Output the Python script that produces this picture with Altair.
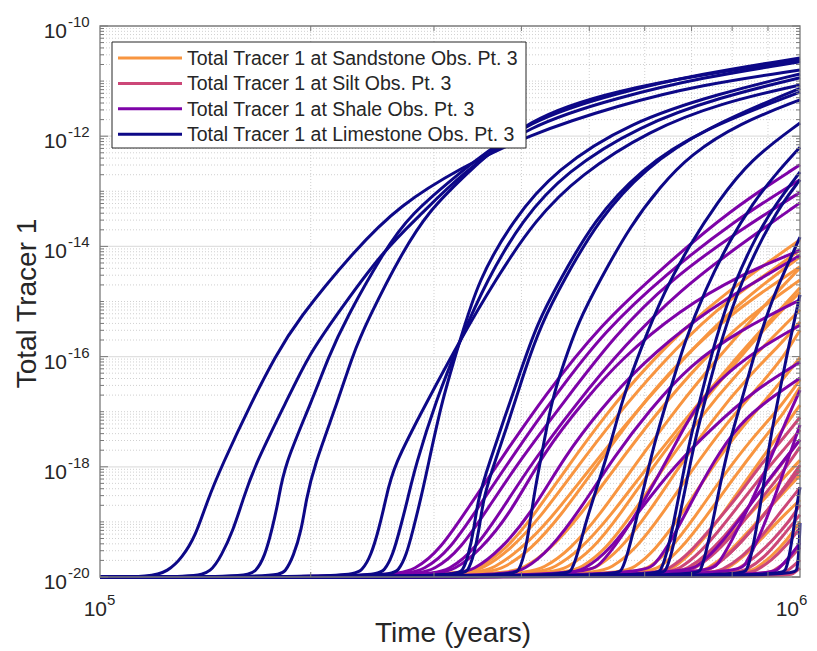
import altair as alt
import pandas as pd

# Each curve is a list of (time in units of 1e5 years, log10 of Total Tracer 1),
# read off the reference picture. Values below 1e-20 sit on the axis floor.
TIME_UNIT = 1e5

LIMESTONE = [
    [(1.18,-20),(1.25,-19.9),(1.31,-19.65),(1.37,-19.25),(1.42,-18.65),(1.49,-18.0),(1.65,-16.8),(1.78,-16.0),(1.91,-15.35),(2.31,-14.07),(2.68,-13.25),(3.27,-12.58),(4.08,-11.98),(5.53,-11.43),(7.2,-11.07),(10,-10.8)],
    [(1.37,-20),(1.44,-19.91),(1.49,-19.62),(1.55,-19.15),(1.60,-18.6),(1.66,-18.0),(1.85,-16.79),(1.98,-16.01),(2.15,-15.34),(2.54,-14.07),(2.87,-13.43),(3.27,-12.7),(4.08,-11.8),(5.53,-11.29),(7.2,-10.94),(10,-10.65)],
    [(1.61,-20),(1.67,-19.91),(1.72,-19.62),(1.76,-19.15),(1.80,-18.6),(1.83,-18.0),(2.01,-16.79),(2.12,-16.01),(2.24,-15.34),(2.55,-14.07),(2.77,-13.43),(3.27,-12.65),(4.08,-11.71),(5.53,-11.2),(7.2,-10.87),(10,-10.58)],
    [(1.79,-20),(1.84,-19.91),(1.89,-19.62),(1.94,-19.15),(1.97,-18.6),(2.02,-18.0),(2.19,-16.79),(2.29,-16.01),(2.41,-15.34),(2.71,-14.07),(2.96,-13.34),(3.27,-12.79),(4.08,-11.65),(5.53,-11.16),(7.2,-10.89),(10,-10.62)],
    [(2.28,-20),(2.37,-19.89),(2.44,-19.6),(2.50,-19.15),(2.56,-18.6),(2.62,-18.0),(2.94,-16.79),(3.27,-15.7),(3.67,-14.61),(4.18,-13.52),(4.85,-12.7),(6.1,-11.89),(7.69,-11.4),(10,-11.07)],
    [(2.47,-20),(2.55,-19.89),(2.62,-19.6),(2.68,-19.15),(2.75,-18.6),(2.82,-18.0),(3.02,-16.79),(3.27,-15.7),(3.57,-14.61),(4.01,-13.52),(4.62,-12.65),(5.91,-11.8),(7.69,-11.29),(10,-10.94)],
    [(2.59,-20),(2.67,-19.89),(2.74,-19.6),(2.80,-19.15),(2.87,-18.6),(2.94,-18.0),(3.08,-16.79),(3.27,-15.7),(3.47,-14.61),(3.89,-13.52),(4.47,-12.61),(5.72,-11.74),(7.69,-11.22),(10,-10.87)],
    [(3.22,-20),(3.30,-19.89),(3.36,-19.6),(3.42,-19.15),(3.47,-18.55),(3.61,-17.88),(3.76,-17.21),(3.98,-16.3),(4.21,-15.4),(4.54,-14.61),(5.08,-13.52),(5.91,-12.61),(7.2,-11.89),(10,-11.2)],
    [(3.27,-20),(3.36,-19.89),(3.42,-19.6),(3.48,-19.15),(3.53,-18.55),(3.67,-17.88),(3.83,-17.21),(4.03,-16.3),(4.27,-15.4),(4.60,-14.61),(5.15,-13.52),(6.0,-12.58),(7.32,-11.85),(10,-11.13)],
    [(3.88,-20),(3.97,-19.89),(4.05,-19.55),(4.12,-18.97),(4.18,-18.42),(4.30,-17.61),(4.42,-16.79),(4.59,-16.15),(4.82,-15.37),(5.18,-14.61),(5.72,-13.63),(6.31,-12.92),(6.96,-12.34),(8.21,-11.76),(10,-11.34)],
    [(4.62,-20),(4.72,-19.89),(4.82,-19.55),(4.93,-19.06),(5.06,-18.6),(5.35,-17.64),(5.57,-16.79),(5.91,-15.88),(6.41,-14.79),(6.96,-13.97),(7.61,-13.21),(8.48,-12.43),(10,-11.76)],
    [(5.44,-20),(5.57,-19.89),(5.68,-19.55),(5.81,-19.06),(5.95,-18.51),(6.21,-17.51),(6.46,-16.79),(6.85,-15.7),(7.32,-14.79),(7.94,-13.88),(8.57,-13.21),(9.21,-12.7),(10,-12.2)],
    [(6.21,-20),(6.33,-19.89),(6.46,-19.55),(6.59,-19.06),(6.74,-18.42),(6.96,-17.51),(7.2,-16.79),(7.56,-15.7),(8.08,-14.61),(8.68,-13.79),(9.21,-13.25),(10,-12.65)],
    [(6.31,-20),(6.44,-19.89),(6.56,-19.55),(6.69,-19.06),(6.85,-18.42),(7.08,-17.51),(7.32,-16.79),(7.71,-15.7),(8.26,-14.61),(8.88,-13.79),(9.39,-13.25),(10,-12.79)],
    [(7.08,-20),(7.22,-19.89),(7.34,-19.55),(7.49,-19.06),(7.66,-18.42),(7.94,-17.51),(8.26,-16.79),(8.62,-15.92),(9.06,-15.06),(9.52,-14.43),(10,-13.83)],
    [(8.24,-20),(8.40,-19.89),(8.54,-19.55),(8.68,-19.06),(8.85,-18.42),(9.06,-17.51),(9.30,-16.79),(9.64,-15.79),(10,-14.88)],
    [(9.39,-20),(9.55,-19.89),(9.68,-19.55),(9.81,-19.06),(9.90,-18.69),(10,-18.37)],
    [(9.84,-20),(9.90,-19.89),(9.97,-19.51),(10,-19.02)],
]

SHALE = [
    [(2.60,-20),(2.82,-19.87),(3.06,-19.51),(3.38,-18.69),(3.73,-17.88),(4.32,-16.7),(5.18,-15.43),(6.31,-14.43),(7.94,-13.34),(10,-12.52)],
    [(2.68,-20),(2.91,-19.87),(3.16,-19.51),(3.49,-18.69),(3.85,-17.88),(4.47,-16.7),(5.27,-15.52),(6.41,-14.52),(8.08,-13.52),(10,-12.79)],
    [(2.77,-20),(3.01,-19.87),(3.27,-19.51),(3.61,-18.69),(3.98,-17.88),(4.62,-16.79),(5.44,-15.61),(6.52,-14.61),(8.21,-13.7),(10,-13.02)],
    [(2.91,-20),(3.16,-19.87),(3.43,-19.51),(3.79,-18.69),(4.12,-17.97),(4.77,-16.88),(5.62,-15.79),(6.74,-14.79),(8.21,-13.97),(10,-13.21)],
    [(2.96,-20),(3.22,-19.87),(3.49,-19.51),(3.85,-18.87),(4.32,-17.7),(4.93,-16.79),(5.53,-16.06),(6.74,-15.15),(8.21,-14.52),(10,-14.07)],
    [(3.16,-20),(3.43,-19.87),(3.73,-19.51),(4.12,-18.87),(4.62,-17.79),(5.18,-16.97),(5.91,-16.15),(7.2,-15.25),(8.48,-14.7),(10,-14.16)],
    [(3.73,-20),(4.05,-19.87),(4.39,-19.51),(4.85,-18.78),(5.44,-17.79),(6.1,-16.97),(6.96,-16.15),(8.21,-15.52),(10,-14.97)],
    [(4.54,-20),(4.93,-19.87),(5.35,-19.51),(5.91,-18.78),(6.63,-17.97),(7.44,-17.33),(8.62,-16.6),(10,-16.1)],
    [(4.93,-20),(5.18,-19.78),(5.53,-19.33),(6.0,-18.6),(6.52,-17.79),(7.08,-16.88),(7.94,-16.24),(8.91,-15.79),(10,-15.43)],
    [(5.91,-20),(6.21,-19.78),(6.56,-19.33),(7.08,-18.51),(7.69,-17.7),(8.35,-17.11),(9.21,-16.7),(10,-16.39)],
    [(7.32,-20),(7.64,-19.78),(8.0,-19.33),(8.48,-18.69),(9.0,-17.97),(9.43,-17.33),(10,-16.61)],
    [(8.15,-20),(8.35,-19.78),(8.71,-19.33),(9.12,-18.69),(9.55,-17.97),(10,-17.24)],
    [(6.74,-20),(7.2,-19.78),(7.69,-19.42),(8.35,-18.82),(9.06,-18.2),(10,-17.51)],
    [(8.97,-20),(9.3,-19.87),(9.64,-19.65),(10,-19.38)],
]

SANDSTONE = [
    [(3.22,-20),(3.49,-19.83),(3.79,-19.51),(4.12,-18.97),(4.62,-18.06),(5.27,-17.06),(6.1,-16.1),(7.44,-15.06),(8.77,-14.39),(10,-13.88)],
    [(3.27,-20),(3.55,-19.83),(3.85,-19.51),(4.25,-18.93),(4.77,-18.06),(5.44,-17.11),(6.31,-16.15),(7.56,-15.15),(8.91,-14.52),(10,-14.07)],
    [(3.38,-20),(3.67,-19.83),(3.98,-19.51),(4.39,-18.97),(4.93,-18.15),(5.62,-17.24),(6.52,-16.3),(7.69,-15.34),(8.91,-14.66),(10,-14.19)],
    [(3.98,-20),(4.32,-19.83),(4.69,-19.51),(5.18,-18.87),(5.81,-17.97),(6.63,-16.97),(7.69,-15.97),(8.91,-15.06),(10,-14.39)],
    [(4.12,-20),(4.47,-19.83),(4.85,-19.51),(5.35,-18.91),(6.0,-18.06),(6.85,-17.15),(7.94,-16.15),(9.06,-15.34),(10,-14.75)],
    [(4.32,-20),(4.66,-19.83),(5.05,-19.51),(5.53,-18.87),(6.15,-18.02),(6.96,-17.11),(7.94,-16.24),(9.06,-15.37),(10,-14.83)],
    [(4.54,-20),(4.88,-19.83),(5.27,-19.51),(5.75,-18.87),(6.35,-18.06),(7.15,-17.15),(8.16,-16.28),(9.21,-15.61),(10,-15.15)],
    [(4.77,-20),(5.13,-19.83),(5.53,-19.51),(6.05,-18.87),(6.67,-18.06),(7.49,-17.15),(8.48,-16.33),(9.36,-15.79),(10,-15.37)],
    [(5.01,-20),(5.39,-19.83),(5.81,-19.51),(6.35,-18.87),(7.01,-18.06),(7.81,-17.24),(8.77,-16.52),(9.52,-15.97),(10,-15.52)],
    [(5.44,-20),(5.81,-19.83),(6.21,-19.51),(6.74,-18.91),(7.36,-18.15),(8.14,-17.37),(9.06,-16.7),(10,-16.02)],
    [(5.72,-20),(6.1,-19.83),(6.52,-19.51),(7.08,-18.91),(7.74,-18.19),(8.54,-17.48),(9.36,-16.93),(10,-16.42)],
    [(5.91,-20),(6.31,-19.83),(6.74,-19.51),(7.32,-18.93),(8.0,-18.24),(8.77,-17.57),(9.52,-17.0),(10,-16.55)],
    [(6.21,-20),(6.63,-19.83),(7.08,-19.51),(7.69,-18.93),(8.43,-18.2),(9.21,-17.51),(10,-16.88)],
    [(6.52,-20),(6.96,-19.85),(7.44,-19.6),(8.08,-19.15),(8.77,-18.66),(9.36,-18.28),(10,-17.88)],
    [(3.73,-20),(4.05,-19.83),(4.39,-19.51),(4.85,-18.89),(5.44,-18.02),(6.21,-17.06),(7.2,-16.1),(8.48,-15.25),(10,-14.61)],
    [(6.96,-20),(7.39,-19.85),(7.86,-19.6),(8.43,-19.18),(9.06,-18.73),(10,-18.15)],
    [(7.44,-20),(7.89,-19.85),(8.37,-19.6),(8.91,-19.24),(9.43,-18.91),(10,-18.6)],
    [(3.49,-20),(3.79,-19.83),(4.12,-19.51),(4.54,-18.91),(5.1,-18.02),(5.81,-17.02),(6.74,-16.06),(8.08,-15.15),(10,-14.37)],
    [(8.21,-20),(8.65,-19.85),(9.12,-19.62),(9.58,-19.33),(10,-19.0)],
]

SILT = [
    [(6.1,-20),(6.52,-19.85),(6.96,-19.56),(7.49,-19.09),(8.14,-18.55),(8.77,-17.97),(9.43,-17.51),(10,-17.1)],
    [(6.31,-20),(6.74,-19.85),(7.2,-19.56),(7.74,-19.09),(8.35,-18.55),(9.0,-18.02),(9.55,-17.64),(10,-17.33)],
    [(6.48,-20),(6.92,-19.85),(7.39,-19.58),(7.94,-19.15),(8.54,-18.64),(9.21,-18.11),(10,-17.51)],
    [(6.63,-20),(7.08,-19.85),(7.56,-19.58),(8.13,-19.15),(8.77,-18.6),(9.43,-18.11),(10,-17.64)],
    [(6.96,-20),(7.39,-19.87),(7.86,-19.64),(8.43,-19.24),(9.06,-18.73),(9.61,-18.29),(10,-17.97)],
    [(7.32,-20),(7.76,-19.87),(8.26,-19.64),(8.83,-19.26),(9.43,-18.78),(10,-18.38)],
    [(7.69,-20),(8.13,-19.87),(8.62,-19.65),(9.15,-19.33),(9.68,-18.97),(10,-18.69)],
    [(8.21,-20),(8.65,-19.89),(9.09,-19.71),(9.55,-19.44),(10,-19.11)],
    [(8.77,-20),(9.18,-19.89),(9.61,-19.71),(10,-19.46)],
    [(9.21,-20),(9.58,-19.91),(10,-19.69)],
    [(9.52,-20),(9.77,-19.95),(10,-19.84)],
    [(7.08,-20),(7.49,-19.85),(7.97,-19.56),(8.62,-19.09),(9.3,-18.55),(10,-18.06)],
    [(7.94,-20),(8.4,-19.87),(8.91,-19.64),(9.43,-19.27),(10,-18.87)],
]

SERIES = ["Sandstone", "Silt", "Shale", "Limestone"]
CURVES = [SANDSTONE, SILT, SHALE, LIMESTONE]
COLORS = ["#f89540", "#cc4778", "#7e03a8", "#0d0887"]
LEGEND_LABELS = [f"Total Tracer 1 at {s} Obs. Pt. 3" for s in SERIES]
Y_TICK_EXP = [-20, -18, -16, -14, -12, -10]
X_TICK_EXP = [5, 6]
X_TITLE = "Time (years)"
Y_TITLE = "Total Tracer 1"

FONT = "Liberation Sans"
TXT = "#262626"
AX = "#7a7a7a"
W, H = 700, 551

# ---- tables ----
rows = []
for s, curves in zip(SERIES, CURVES):
    for i, pts in enumerate(curves):
        if pts[0][0] > 1.0:
            pts = [(1.0, -20.0)] + pts
        for t, e in pts:
            rows.append({"series": s, "curve": f"{s}-{i}", "t": t * TIME_UNIT, "v": 10.0 ** e})
df = pd.DataFrame(rows)

minor_y = [m * 10.0 ** k for k in range(-20, -10) for m in range(1, 10)
           if not (m == 1 and k in Y_TICK_EXP)]
major_y_inner = [10.0 ** k for k in Y_TICK_EXP[1:-1]]
major_y = [10.0 ** k for k in Y_TICK_EXP]
minor_x = [m * 10.0 ** 5 for m in range(2, 10)]

xs = alt.Scale(type="log", domain=[1e5, 1e6], nice=False)
ys = alt.Scale(type="log", domain=[1e-20, 1e-10], nice=False)
X = alt.X("t:Q", scale=xs, axis=None)
Y = alt.Y("v:Q", scale=ys, axis=None)

one = pd.DataFrame({"a": [0]})
layers = []

# grid
layers.append(alt.Chart(pd.DataFrame({"v": minor_y})).mark_rule(
    color="#c4c4c4", strokeWidth=0.8, strokeDash=[1, 2]).encode(y=Y))
layers.append(alt.Chart(pd.DataFrame({"t": minor_x})).mark_rule(
    color="#c4c4c4", strokeWidth=0.8, strokeDash=[1, 2]).encode(x=X))
layers.append(alt.Chart(pd.DataFrame({"v": major_y_inner})).mark_rule(
    color="#e0e0e0", strokeWidth=1.2).encode(y=Y))

# curves
for s, c in zip(SERIES, COLORS):
    layers.append(alt.Chart(df[df.series == s]).mark_line(
        color=c, strokeWidth=3, interpolate="basis").encode(
        x=X, y=Y, detail="curve:N"))

# ticks (inside, on all four sides)
yt_min = pd.DataFrame({"v": minor_y})
yt_maj = pd.DataFrame({"v": major_y})
xt_min = pd.DataFrame({"t": minor_x})
for d, L in ((yt_min, 4), (yt_maj, 8)):
    layers.append(alt.Chart(d).mark_rule(color=AX, strokeWidth=1).encode(
        y=Y, x=alt.value(0), x2=alt.value(L)))
    layers.append(alt.Chart(d).mark_rule(color=AX, strokeWidth=1).encode(
        y=Y, x=alt.value(W - L), x2=alt.value(W)))
layers.append(alt.Chart(xt_min).mark_rule(color=AX, strokeWidth=1).encode(
    x=X, y=alt.value(0), y2=alt.value(5)))
layers.append(alt.Chart(xt_min).mark_rule(color=AX, strokeWidth=1).encode(
    x=X, y=alt.value(H - 5), y2=alt.value(H)))

# box
layers.append(alt.Chart(one).mark_rect(fillOpacity=0, stroke=AX, strokeWidth=1.3).encode(
    x=alt.value(0), x2=alt.value(W), y=alt.value(0), y2=alt.value(H)))

# tick labels (10 with superscript exponent)
ylab = pd.DataFrame({"v": major_y, "base": ["10"] * len(major_y),
                     "exp": [str(k) for k in Y_TICK_EXP]})
layers.append(alt.Chart(ylab).mark_text(align="right", baseline="alphabetic", font=FONT,
    fontSize=21, color=TXT, dx=-33, dy=12).encode(y=Y, x=alt.value(0), text="base:N"))
layers.append(alt.Chart(ylab).mark_text(align="left", baseline="alphabetic", font=FONT,
    fontSize=15, color=TXT, dx=-32, dy=1).encode(y=Y, x=alt.value(0), text="exp:N"))
# x labels: 10^5 centred on its tick; 10^6 kept inside the page edge
for k, shift in zip(X_TICK_EXP, (7, -1)):
    xl = pd.DataFrame({"t": [10.0 ** k], "base": ["10"], "exp": [str(k)]})
    layers.append(alt.Chart(xl).mark_text(align="right", baseline="alphabetic", font=FONT,
        fontSize=21, color=TXT, dx=shift).encode(x=X, y=alt.value(H + 39), text="base:N"))
    layers.append(alt.Chart(xl).mark_text(align="left", baseline="alphabetic", font=FONT,
        fontSize=15, color=TXT, dx=shift).encode(x=X, y=alt.value(H + 28), text="exp:N"))

# axis titles
layers.append(alt.Chart(pd.DataFrame({"s": [X_TITLE]})).mark_text(
    align="center", baseline="alphabetic", font=FONT, fontSize=28, color=TXT).encode(
    x=alt.value(W / 2 + 3), y=alt.value(H + 65), text="s:N"))
layers.append(alt.Chart(pd.DataFrame({"s": [Y_TITLE]})).mark_text(
    align="center", baseline="alphabetic", font=FONT, fontSize=28, color=TXT, angle=270).encode(
    x=alt.value(-64), y=alt.value(H / 2 + 2), text="s:N"))

# legend
layers.append(alt.Chart(one).mark_rect(fill="white", stroke=TXT, strokeWidth=1).encode(
    x=alt.value(12), x2=alt.value(426), y=alt.value(16), y2=alt.value(122)))
for i, (lab, c) in enumerate(zip(LEGEND_LABELS, COLORS)):
    yy = 32 + 25.4 * i
    layers.append(alt.Chart(one).mark_rule(color=c, strokeWidth=3).encode(
        x=alt.value(18), x2=alt.value(82), y=alt.value(yy)))
    layers.append(alt.Chart(pd.DataFrame({"s": [lab]})).mark_text(
        align="left", baseline="middle", font=FONT, fontSize=19.5, color=TXT).encode(
        x=alt.value(87), y=alt.value(yy + 1), text="s:N"))

chart = alt.layer(*layers).properties(
    width=W, height=H,
    padding={"left": 92, "top": 18, "right": 9, "bottom": 72},
    autosize=alt.AutoSizeParams(type="none"),
).configure_view(strokeWidth=0)

chart.save("out.html", embed_options={"renderer": "svg", "actions": False})
